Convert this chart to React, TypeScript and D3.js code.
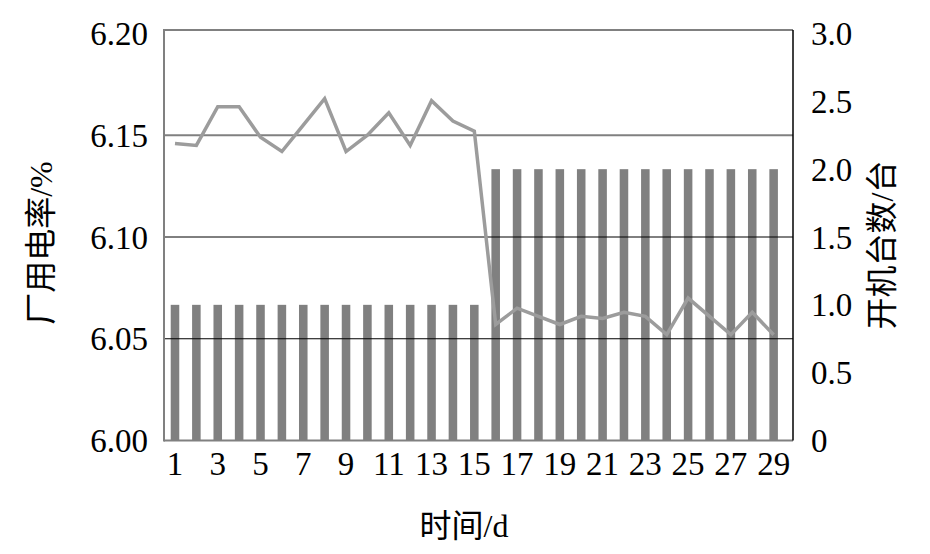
import React from "react";
import * as d3 from "d3";

const days = d3.range(1, 30);
const rate = [6.146, 6.145, 6.164, 6.164, 6.149, 6.142, 6.155, 6.168, 6.142, 6.150,
    6.161, 6.145, 6.167, 6.157, 6.152, 6.057, 6.065, 6.061, 6.057, 6.061,
    6.060, 6.063, 6.061, 6.052, 6.070, 6.061, 6.052, 6.063, 6.052];
const units = [1, 1, 1, 1, 1, 1, 1, 1, 1, 1, 1, 1, 1, 1, 1,
    2, 2, 2, 2, 2, 2, 2, 2, 2, 2, 2, 2, 2, 2];
const leftTicks = [6.00, 6.05, 6.10, 6.15, 6.20];
const rightTicks = [0, 0.5, 1.0, 1.5, 2.0, 2.5, 3.0];
const xTicks = days.filter(d => d % 2 === 1);

const font = "'Liberation Serif', 'Times New Roman', serif";
const cjk = "'Liberation Serif', 'Noto Sans CJK SC', serif";

export default function App() {
    const width = 930;
    const height = 554;
    const frameLeft = 164;
    const frameRight = 793;
    const frameTop = 30;
    const frameBottom = 440.5;

    const x = d3.scaleBand<number>().domain(days).range([164.3, 164.3 + 29 * 21.38]).paddingInner(0.6).paddingOuter(0.3);
    const yL = d3.scaleLinear().domain([6.0, 6.2]).range([frameBottom, 33.5]);
    const yR = d3.scaleLinear().domain([0, 3]).range([frameBottom, 33.5]);
    const cx = (d: number) => (x(d) as number) + x.bandwidth() / 2;

    const line = d3.line<number>((d, i) => cx(days[i]), d => yL(d));

    return (
        <svg width={width} height={height} style={{display: "block", margin: "-8px"}}>
            <rect width={width} height={height} fill="white"/>
            {units.map((u, i) => (
                <rect key={i} x={x(days[i])} y={yR(u)} width={x.bandwidth()} height={yR(0) - yR(u)} fill="#808080"/>
            ))}
            {leftTicks.slice(1, -1).map(t => (
                <line key={t} x1={frameLeft} x2={frameRight} y1={yL(t)} y2={yL(t)}
                      stroke={t === 6.15 ? "#808080" : "#000"} strokeWidth={t === 6.15 ? 2 : 1}/>
            ))}
            <line x1={frameLeft} x2={frameRight} y1={frameTop} y2={frameTop} stroke="#808080" strokeWidth={2}/>
            <line x1={frameLeft} x2={frameRight} y1={frameBottom} y2={frameBottom} stroke="#808080" strokeWidth={2}/>
            <line x1={frameLeft} x2={frameLeft} y1={frameTop - 1} y2={frameBottom + 1} stroke="#808080" strokeWidth={2}/>
            <line x1={frameRight} x2={frameRight} y1={frameTop} y2={frameBottom} stroke="#000" strokeWidth={1.5}/>
            <path d={line(rate) as string} fill="none" stroke="#9c9c9c" strokeWidth={3.5} strokeLinejoin="miter"/>
            <g fontFamily={font} fontSize={33} fill="#000">
                {leftTicks.map(t => (
                    <text key={t} x={148} y={yL(t)} dy="0.35em" textAnchor="end">{t.toFixed(2)}</text>
                ))}
                {rightTicks.map(t => (
                    <text key={t} x={811} y={yR(t)} dy="0.35em" textAnchor="start">{t === 0 ? "0" : t.toFixed(1)}</text>
                ))}
                {xTicks.map(d => (
                    <text key={d} x={cx(d)} y={475} textAnchor="middle">{d}</text>
                ))}
            </g>
            <g fontFamily={cjk} fontSize={32} fill="#000">
                <text transform="translate(52,243) rotate(-90)" textAnchor="middle">厂用电率/%</text>
                <text transform="translate(893,245) rotate(-90)" textAnchor="middle">开机台数/台</text>
                <text x={464} y={537} textAnchor="middle">时间/d</text>
            </g>
        </svg>
    );
}
